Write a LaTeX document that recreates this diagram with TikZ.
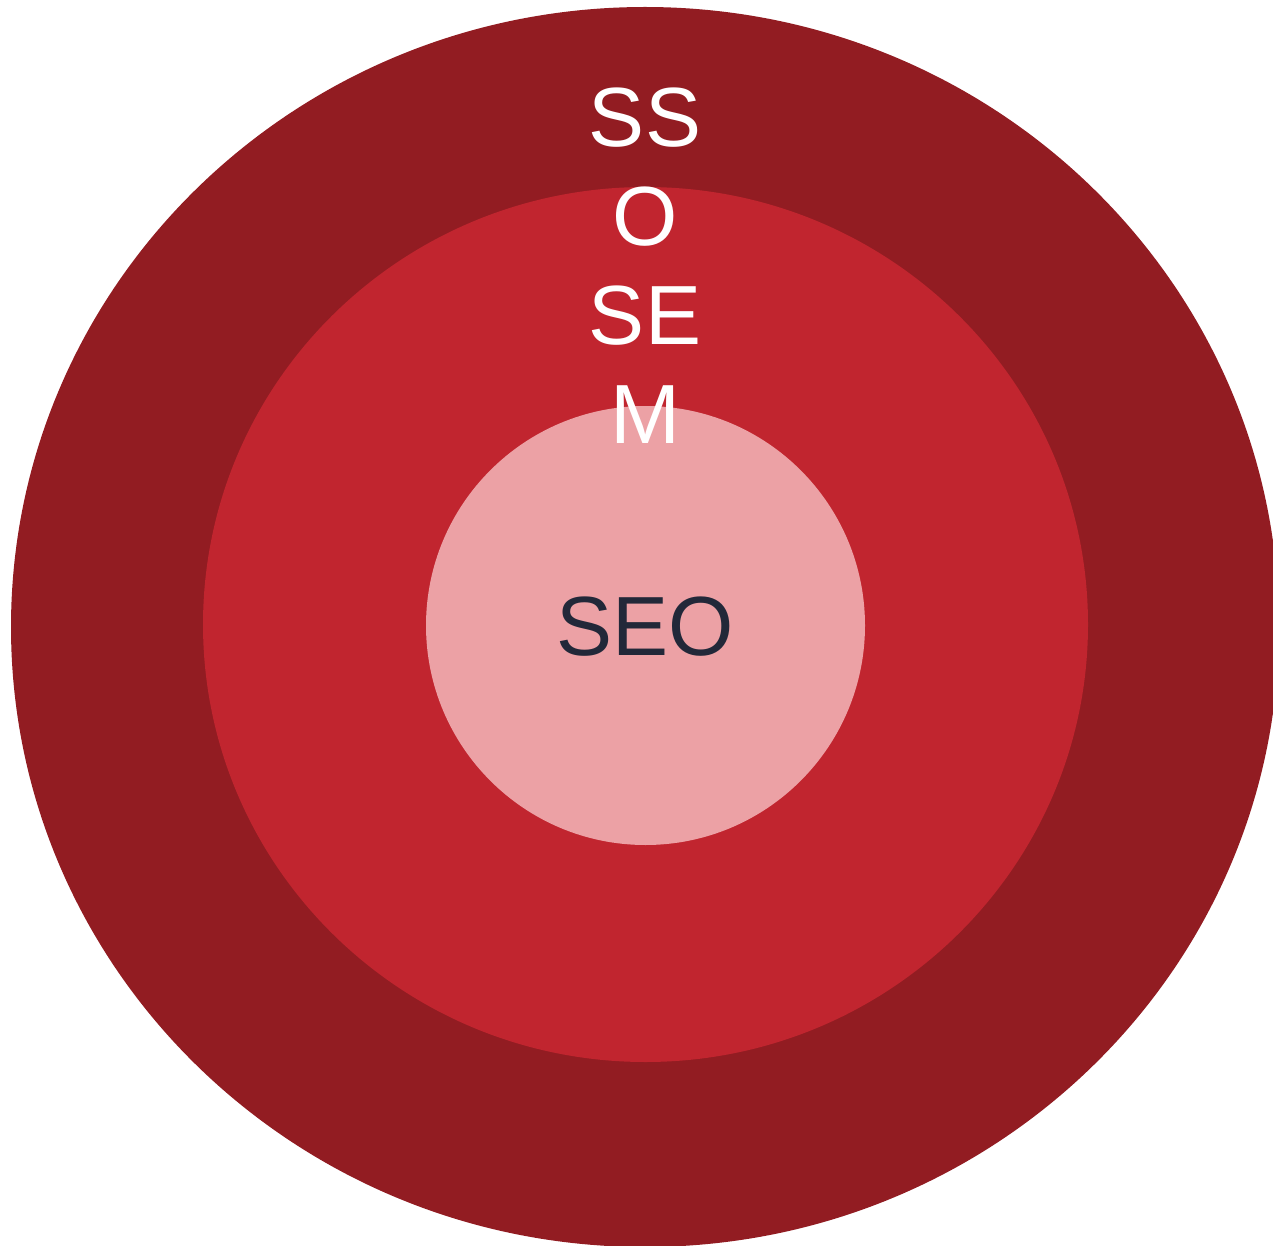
\documentclass[tikz,border=0pt]{standalone}
\usepackage{fontspec}
\setmainfont{Liberation Sans}
\usepackage{tikz}

\definecolor{outerred}{HTML}{921C22}
\definecolor{midred}{HTML}{C1252F}
\definecolor{innerpink}{HTML}{ECA1A5}
\definecolor{seotext}{HTML}{222839}

\tikzset{
  ringlabel/.style={inner sep=0pt, align=center, font=\fontsize{84}{99}\selectfont}
}

\begin{document}
\begin{tikzpicture}[x=1pt,y=-1pt]
\useasboundingbox (0,0) rectangle (1273,1246);
\clip (0,0) rectangle (1273,1246);

% rings, outside in
\fill[outerred] (645,627) ellipse [x radius=634pt, y radius=620pt];
\fill[midred] (645.5,624.5) ellipse [x radius=442.5pt, y radius=437.5pt];
\fill[innerpink] (645.5,625.5) circle [radius=219.5pt];

% base anchor = baseline of the last line (M)
\node[ringlabel, text=white, anchor=base] (ssosem) at (645,443) {SS\\O\\SE\\M};
\node[ringlabel, text=seotext, anchor=base] (seo) at (645.5,655) {SEO};

\end{tikzpicture}
\end{document}
